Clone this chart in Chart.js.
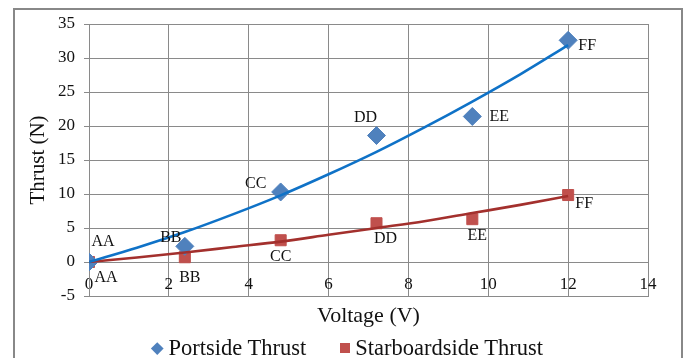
<!DOCTYPE html>
<html>
<head>
<meta charset="utf-8">
<script src="https://cdn.jsdelivr.net/npm/chart.js@4"></script>
<style>
  html, body { margin: 0; padding: 0; background: #fff; }
  #wrap { position: relative; width: 687px; height: 358px; overflow: hidden; }
  #frame { position: absolute; left: 13px; top: 8px; width: 666px; height: 380px; border: 2px solid #888; }
  #chartThrust { position: absolute; left: 0; top: 0; }
  #legend { position: absolute; left: 151px; top: 337px; display: flex; align-items: center;
            font: 22.5px 'Liberation Serif', 'Times New Roman', serif; line-height: 22px; color: #111; white-space: nowrap; }
  #legend .item { display: flex; align-items: center; }
  #legend .item + .item { margin-left: 34px; }
  #legend .mark { display: inline-block; margin-right: 5px; }
  #legend .rectRot { width: 8.5px; height: 8.5px; transform: rotate(45deg); margin-left: 2px; margin-right: 7px; }
  #legend .rect { width: 10px; height: 10px; }
</style>
</head>
<body>
<div id="wrap">
  <div id="frame"></div>
  <canvas id="chartThrust" width="687" height="358"></canvas>
  <div id="legend"></div>
</div>
<script>
// --- data ---
const pointNames = ['AA', 'BB', 'CC', 'DD', 'EE', 'FF'];
const voltage = [0, 2.4, 4.8, 7.2, 9.6, 12];
const portside = [0, 2.3, 10.3, 18.6, 21.4, 32.6];
const starboard = [0, 0.7, 3.2, 5.7, 6.3, 9.85];

// trendlines (2nd order)
const trendX = [0, 1.2, 2.4, 3.6, 4.8, 6, 7.2, 8.4, 9.6, 10.8, 12];
const portTrend = [0, 2.1, 4.4, 7.0, 9.8, 12.9, 16.2, 19.8, 23.6, 27.6, 31.9];
const starTrend = [0, 0.65, 1.4, 2.2, 3.0, 4.0, 5.0, 6.0, 7.2, 8.4, 9.7];

const xTicks = { min: 0, max: 14, step: 2 };
const yTicks = { min: -5, max: 35, step: 5 };

const serif = "'Liberation Serif', 'Times New Roman', serif";

const toPoints = (xs, ys) => xs.map((x, i) => ({ x: x, y: ys[i] }));

// label offsets from each marker (px)
const labelOffsets = {
    0: [[14, -20], [-14, -9], [-25, -8], [-11, -18], [27, 0], [19, 5]],
    1: [[17, 16], [5, 21], [0, 17], [9, 16], [5, 17], [16, 9]]
};

const pointLabels = {
    id: 'pointLabels',
    afterDatasetsDraw(chart) {
        const ctx = chart.ctx;
        ctx.save();
        ctx.font = '16px ' + serif;
        ctx.fillStyle = '#111';
        ctx.textAlign = 'center';
        ctx.textBaseline = 'middle';
        Object.keys(labelOffsets).forEach(di => {
            const meta = chart.getDatasetMeta(+di);
            meta.data.forEach((pt, i) => {
                const off = labelOffsets[di][i];
                ctx.fillText(pointNames[i], pt.x + off[0], pt.y + off[1]);
            });
        });
        ctx.restore();
    }
};

// html legend built from the two marker series
const htmlLegend = {
    id: 'htmlLegend',
    afterUpdate(chart) {
        const box = document.getElementById('legend');
        box.innerHTML = '';
        chart.data.datasets.slice(0, 2).forEach(ds => {
            const item = document.createElement('span');
            item.className = 'item';
            const mark = document.createElement('span');
            mark.className = 'mark ' + ds.pointStyle;
            mark.style.background = ds.backgroundColor;
            const txt = document.createElement('span');
            txt.textContent = ds.label;
            item.appendChild(mark);
            item.appendChild(txt);
            box.appendChild(item);
        });
    }
};

const ctxThrust = document.getElementById('chartThrust');
if (ctxThrust) {
    new Chart(ctxThrust, {
        type: 'scatter',
        data: {
            datasets: [{
                label: 'Portside Thrust',
                data: toPoints(voltage, portside),
                backgroundColor: '#4F81BD',
                borderColor: '#4F81BD',
                pointStyle: 'rectRot',
                pointRadius: 9,
                order: 2
            }, {
                label: 'Starboardside Thrust',
                data: toPoints(voltage, starboard),
                backgroundColor: '#C0504D',
                borderColor: '#C0504D',
                pointStyle: 'rect',
                pointRadius: 7.8,
                order: 2
            }, {
                label: 'portTrend',
                data: toPoints(trendX, portTrend),
                showLine: true,
                borderColor: '#0F72C7',
                borderWidth: 2.6,
                pointRadius: 0,
                cubicInterpolationMode: 'monotone',
                order: 1
            }, {
                label: 'starTrend',
                data: toPoints(trendX, starTrend),
                showLine: true,
                borderColor: '#A3302D',
                borderWidth: 2.6,
                pointRadius: 0,
                cubicInterpolationMode: 'monotone',
                order: 1
            }]
        },
        options: {
            responsive: false,
            animation: false,
            layout: { padding: { left: 14, right: 39, top: 24, bottom: 31 } },
            plugins: {
                tooltip: { enabled: false },
                legend: { display: false }
            },
            scales: {
                x: {
                    type: 'linear',
                    min: xTicks.min,
                    max: xTicks.max,
                    afterFit: s => { s.height = 31; },
                    ticks: {
                        stepSize: xTicks.step,
                        mirror: true,
                        padding: 1,
                        color: '#111',
                        font: { family: serif, size: 17 }
                    },
                    grid: { color: '#8a8a8a', drawTicks: false },
                    border: { color: '#8a8a8a' },
                    title: {
                        display: true,
                        text: 'Voltage (V)',
                        color: '#111',
                        padding: 0,
                        font: { family: serif, size: 22, lineHeight: 1 }
                    }
                },
                y: {
                    min: yTicks.min,
                    max: yTicks.max,
                    afterFit: s => { s.width = 75; },
                    ticks: {
                        stepSize: yTicks.step,
                        padding: 9,
                        color: '#111',
                        font: { family: serif, size: 17 }
                    },
                    grid: { color: '#8a8a8a', tickLength: 5 },
                    border: { color: '#8a8a8a' },
                    title: {
                        display: true,
                        text: 'Thrust (N)',
                        color: '#111',
                        padding: { top: 12, bottom: 0 },
                        font: { family: serif, size: 21 }
                    }
                }
            }
        },
        plugins: [pointLabels, htmlLegend]
    });
}
</script>
</body>
</html>
